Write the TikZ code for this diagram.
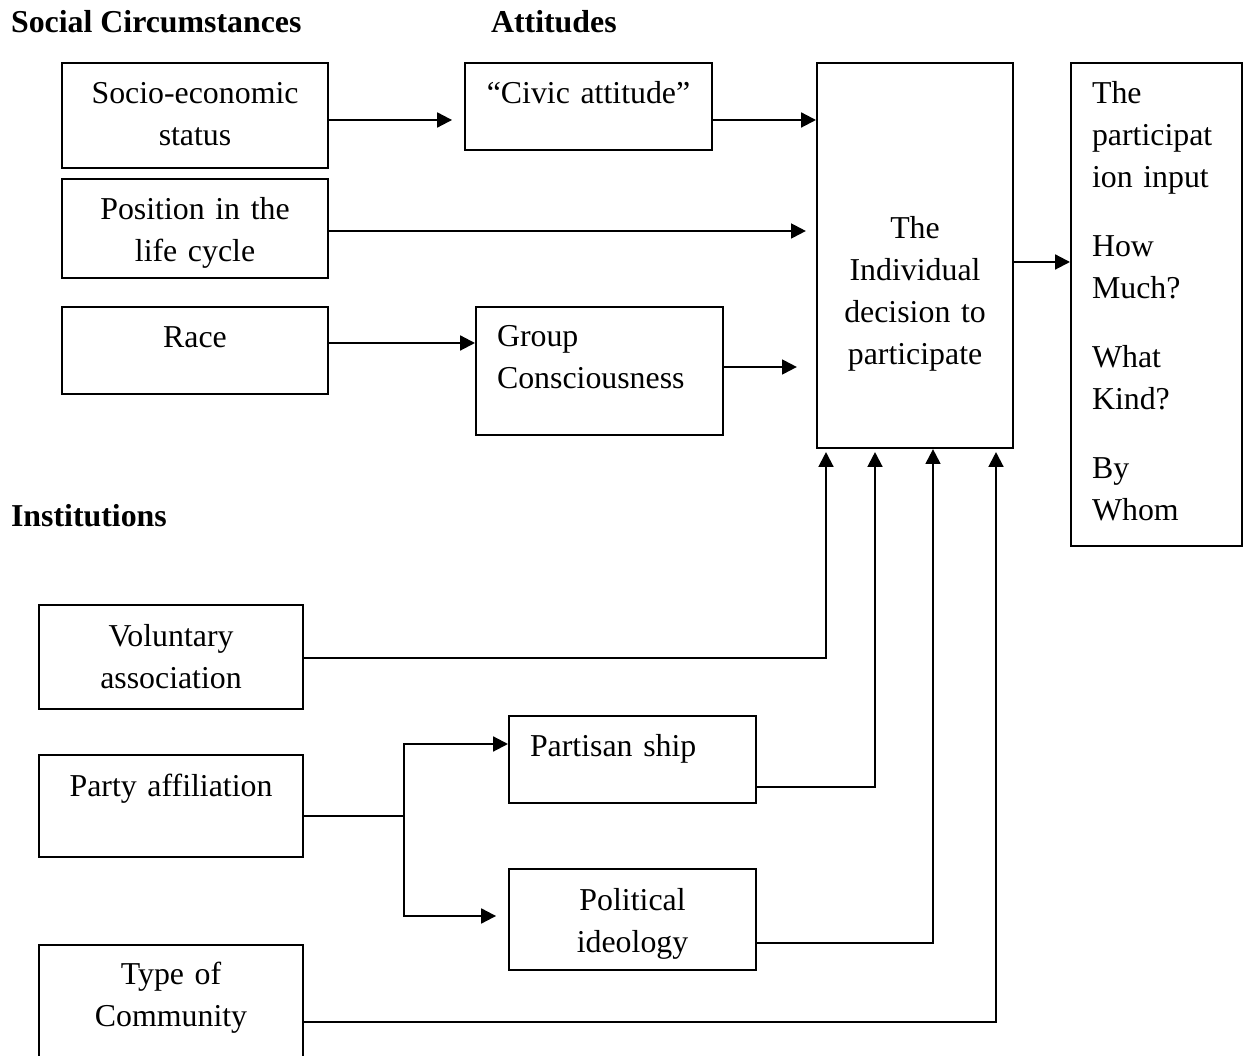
\documentclass[tikz,border=0pt]{standalone}
\usepackage{fontspec}
\setmainfont{Liberation Serif}
\usetikzlibrary{arrows.meta}

\tikzset{
  blk/.style n args={4}{draw, anchor=north west, inner xsep=7.9pt, inner ysep=0pt,
    text width={(#1-42)*0.3768pt}, text height={#3*0.3768pt},
    text depth={(#2-#3)*0.3768pt}, align=#4,
    font=\fontsize{12pt}{15.9pt}\selectfont},
  hd/.style={anchor=base west, inner sep=0pt, font=\fontsize{12pt}{15.9pt}\selectfont\bfseries},
  arr/.style={-{Triangle[length=5.6pt,width=5.6pt]}},
}

\begin{document}
\begin{tikzpicture}[x=0.3768pt, y=-0.3768pt, line width=0.8pt]
	\path[use as bounding box, clip] (0,0) rectangle (1248,1056);

	% headings
	\node[hd] (hsoc) at (10,33) {Social Circumstances};
	\node[hd] (hatt) at (490,33) {Attitudes};
	\node[hd] (hins) at (10,527) {Institutions};

	% social circumstances and attitudes
	\node[blk={266}{105}{40}{center}] (soc) at (61,62) {Socio-economic\\status};
	\node[blk={266}{99}{40}{center}] (pos) at (61,178) {Position in the\\life cycle};
	\node[blk={266}{87}{40}{center}] (race) at (61,306) {Race};
	\node[blk={247}{87}{40}{center}] (civ) at (464,62) {“Civic attitude”};
	\node[blk={247}{128}{39}{left}] (grp) at (475,306) {Group\\Consciousness};

	% decision and output
	\node[blk={196}{385}{175}{center}] (ind) at (816,62) {The\\Individual\\decision to\\participate};
	\node[blk={171}{483}{40}{left}] (out) at (1070,62) {The\\participat\\ion input\\[10pt]How\\Much?\\[10pt]What\\Kind?\\[10pt]By\\Whom};

	% institutions
	\node[blk={264}{104}{41}{center}] (vol) at (38,604) {Voluntary\\association};
	\node[blk={264}{102}{41}{center}] (pty) at (38,754) {Party affiliation};
	\node[blk={264}{125}{39}{center}] (com) at (38,944) {Type of\\Community};
	\node[blk={247}{87}{40}{left}] (par) at (508,715) {Partisan ship};
	\node[blk={247}{101}{41}{center}] (pol) at (508,868) {Political\\ideology};

	\draw[arr, shorten >=4.5pt] (soc.east |- 0,120) -- (civ.west |- 0,120);
	\draw[arr] (civ.east |- 0,120) -- (ind.west |- 0,120);
	\draw[arr, shorten >=3.8pt] (pos.east |- 0,231) -- (ind.west |- 0,231);
	\draw[arr] (race.east |- 0,343) -- (grp.west |- 0,343);
	\draw[arr, shorten >=7.2pt] (grp.east |- 0,367) -- (ind.west |- 0,367);
	\draw[arr] (ind.east |- 0,262) -- (out.west |- 0,262);

	\draw[arr, shorten >=1.1pt] (vol.east |- 0,658) -| (ind.south -| 826,0);
	\draw[arr, shorten >=1.1pt] (par.east |- 0,787) -| (ind.south -| 875,0);
	\draw[arr] (pol.east |- 0,943) -| (ind.south -| 933,0);
	\draw[arr, shorten >=1.1pt] (com.east |- 0,1022) -| (ind.south -| 996,0);

	\coordinate (br) at (404,816);
	\draw (pty.east |- br) -- (br);
	\draw[arr] (br) |- (par.west |- 0,744);
	\draw[arr, shorten >=4.5pt] (br) |- (pol.west |- 0,916);
\end{tikzpicture}
\end{document}
